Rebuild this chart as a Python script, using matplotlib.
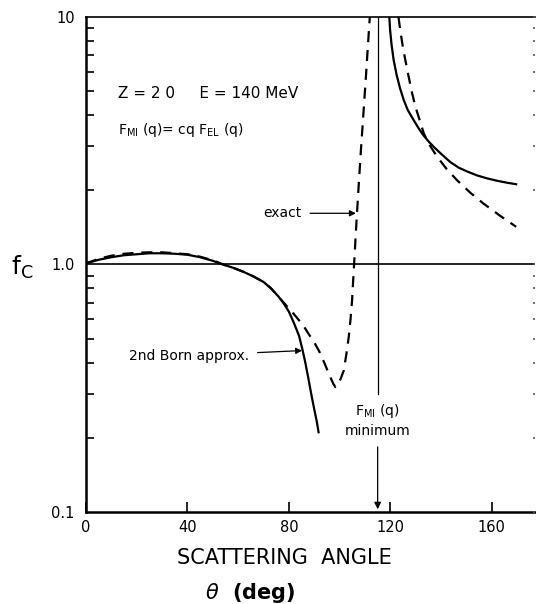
import numpy as np
import matplotlib
matplotlib.use("Agg")
import matplotlib.pyplot as plt

# 2nd Born approx. (solid)
born_x = [0, 5, 10, 15, 20, 25, 30, 35, 40, 45, 50, 54, 58, 62, 66, 70, 73, 76, 78, 80, 82, 84, 85.2,
          86.4, 87.6, 88.8, 90, 91, 91.7]
born_y = [1.01, 1.045, 1.07, 1.09, 1.10, 1.11, 1.11, 1.105, 1.095, 1.07, 1.035, 1.0, 0.97, 0.935, 0.895,
          0.85, 0.80, 0.74, 0.695, 0.645, 0.58, 0.515, 0.46, 0.405, 0.35, 0.30, 0.26, 0.232, 0.21]
born_x2 = [119.6, 119.9, 120.5, 121.3, 122.5, 123.8, 125.3, 126.9, 129.2, 131.0, 133.0, 135.2,
           137.5, 140.0, 143.7, 147.0, 150.5, 154.2, 158.0, 162.0, 166.0, 169.6]
born_y2 = [10.0, 8.86, 7.7, 6.7, 5.82, 5.16, 4.61, 4.2, 3.83, 3.57, 3.33, 3.13,
           2.96, 2.80, 2.59, 2.46, 2.37, 2.29, 2.23, 2.18, 2.14, 2.11]

# exact (dashed)
exact_x = [0, 5, 10, 15, 20, 25, 30, 35, 40, 45, 50, 54, 58, 62, 66, 70, 73, 76, 78, 80, 82, 84, 86, 88,
           90, 92, 94, 96, 97.5, 98.3, 99.2, 100.4, 101.6, 102.6, 103.6, 104.3, 104.9, 105.7, 106.5,
           107.4, 108.4, 109.4, 110.4, 111.1, 111.9]
exact_y = [1.01, 1.055, 1.085, 1.105, 1.115, 1.12, 1.12, 1.11, 1.10, 1.075, 1.04, 1.0, 0.97, 0.935, 0.895,
           0.85, 0.80, 0.74, 0.70, 0.665, 0.63, 0.595, 0.56, 0.52, 0.485, 0.445, 0.40, 0.357, 0.33, 0.32,
           0.325, 0.345, 0.372, 0.43, 0.51, 0.60, 0.715, 1.0, 1.4, 2.0, 2.9, 4.1, 5.8, 7.5, 10.0]
exact_x2 = [123.2, 124.0, 125.0, 125.9, 127.2, 128.6, 130.0, 131.5, 133.2, 135.8, 138.5, 142.2, 146.3,
            151.5, 156.8, 163.0, 169.6]
exact_y2 = [10.0, 8.7, 7.5, 6.7, 5.75, 4.91, 4.3, 3.85, 3.38, 3.0, 2.72, 2.43, 2.19,
            1.95, 1.76, 1.58, 1.42]

x_ticks = [0, 40, 80, 120, 160]
y_ticks = [0.1, 1.0, 10]
y_ticklabels = ["0.1", "1.0", "10"]
min_angle = 115

fig = plt.figure(figsize=(5.36, 6.04), dpi=100)
ax = fig.add_axes([0.1604, 0.1523, 0.8376, 0.8196])

ax.plot(born_x, born_y, color="black", lw=1.6)
ax.plot(born_x2, born_y2, color="black", lw=1.6)
ax.plot(exact_x, exact_y, color="black", lw=1.6, ls=(0, (5, 3.5)))
ax.plot(exact_x2, exact_y2, color="black", lw=1.6, ls=(0, (5, 3.5)))

ax.axhline(1.0, color="black", lw=1.2)
# F_MI(q) minimum marker line
ax.plot([min_angle, min_angle], [10, 0.30], color="black", lw=0.9)
ax.annotate("", xy=(min_angle, 0.1), xytext=(min_angle, 0.188),
            arrowprops=dict(arrowstyle="-|>", color="black", lw=0.9, mutation_scale=10))

ax.set_yscale("log")
ax.set_xlim(0, 177)
ax.set_ylim(0.1, 10)
ax.set_xticks(x_ticks)
ax.set_xticklabels([str(t) for t in x_ticks], fontsize=10.5)
ax.set_yticks(y_ticks)
ax.set_yticklabels(y_ticklabels, fontsize=10.5)
ax.tick_params(axis="x", direction="in", length=7, width=1.2, pad=6)
ax.tick_params(axis="y", which="major", direction="in", length=0, pad=8)
ax.tick_params(axis="y", which="minor", direction="in", length=6, width=1.2)
ax.yaxis.set_minor_formatter(matplotlib.ticker.NullFormatter())

# faint dotted tick marks on the right edge
ax2 = ax.twinx()
ax2.set_yscale("log")
ax2.set_ylim(0.1, 10)
ax2.tick_params(axis="y", which="both", direction="in", length=1.5, width=1.2, colors="#555555",
                labelright=False)
ax2.set_yticks(y_ticks)
for s in ax2.spines.values():
    s.set_visible(False)

for s in ["left", "bottom"]:
    ax.spines[s].set_linewidth(1.8)
ax.spines["top"].set_linewidth(1.2)
ax.spines["right"].set_visible(False)

ax.text(12.6, 4.92, "Z = 2 0     E = 140 MeV", fontsize=11, va="center")
ax.text(12.6, 3.49, r"$\mathregular{F_{MI}}$ (q)= cq $\mathregular{F_{EL}}$ (q)", fontsize=10, va="center")
ax.annotate("exact", xy=(106.4, 1.61), xytext=(70, 1.61), fontsize=10, va="center",
            arrowprops=dict(arrowstyle="-|>", color="black", lw=0.9, mutation_scale=9, shrinkA=4, shrinkB=0))
ax.annotate("2nd Born approx.", xy=(85.2, 0.449), xytext=(17, 0.428), fontsize=10, va="center",
            arrowprops=dict(arrowstyle="-|>", color="black", lw=0.9, mutation_scale=9, shrinkA=4, shrinkB=0))
ax.text(min_angle, 0.255, r"$\mathregular{F_{MI}}$ (q)", fontsize=10, ha="center", va="center")
ax.text(min_angle, 0.212, "minimum", fontsize=10, ha="center", va="center")

fig.text(284 / 536, 1 - 558 / 604, "SCATTERING  ANGLE", fontsize=15, ha="center", va="center")
fig.text(250 / 536, 1 - 593 / 604, r"$\theta$  (deg)", fontsize=15, ha="center", va="center", fontweight="bold")
fig.text(22 / 536, 1 - 267 / 604, r"$\mathregular{f_C}$", fontsize=18, ha="center", va="center")

fig.savefig("out.png", dpi=100)
